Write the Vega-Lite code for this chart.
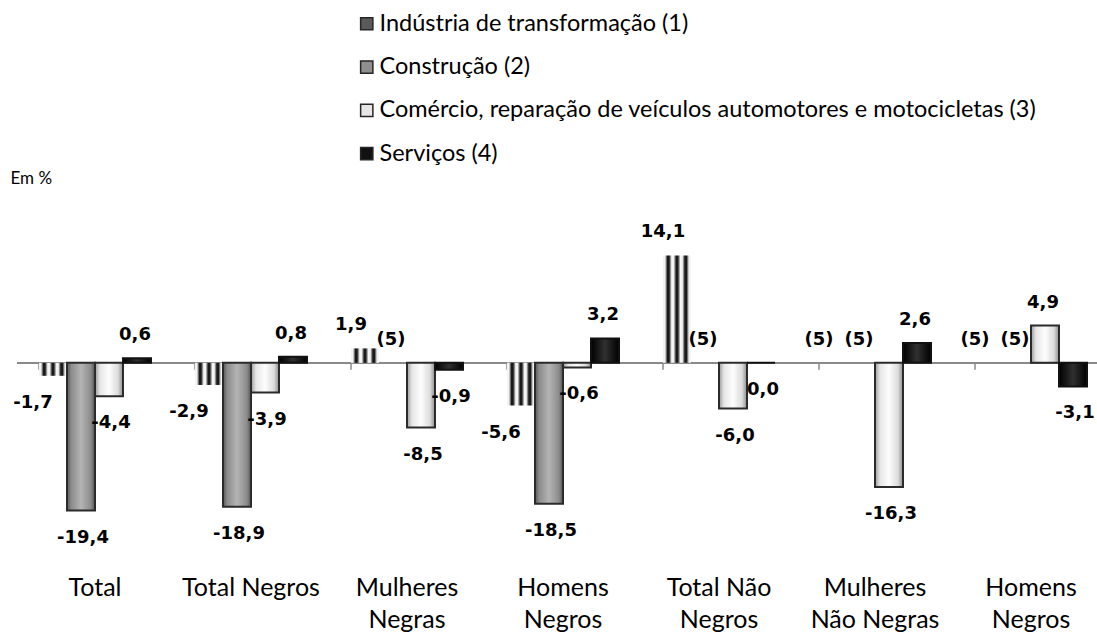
{
  "$schema": "https://vega.github.io/schema/vega-lite/v6.json",
  "width": 1080,
  "height": 380,
  "autosize": {"type": "none"},
  "padding": {"left": 17, "top": 190, "right": 0, "bottom": 63},
  "background": "white",
  "config": {
    "view": {"stroke": null},
    "font": "Lato",
    "axisY": {"labels": false, "ticks": false, "domain": false, "grid": false, "titleAngle": 0, "titleX": -7, "titleY": -12, "titleAlign": "left", "titleBaseline": "middle", "titleFontSize": 17, "titleFontWeight": "normal", "titleFont": "Lato", "titleColor": "#000000"}
  },
  "data": {"values": [
    {"cat": 1, "serie": "Indústria de transformação (1)", "value": -1.7, "label": "-1,7"},
    {"cat": 1, "serie": "Construção (2)", "value": -19.4, "label": "-19,4"},
    {"cat": 1, "serie": "Comércio, reparação de veículos automotores e motocicletas (3)", "value": -4.4, "label": "-4,4"},
    {"cat": 1, "serie": "Serviços (4)", "value": 0.6, "label": "0,6"},
    {"cat": 2, "serie": "Indústria de transformação (1)", "value": -2.9, "label": "-2,9"},
    {"cat": 2, "serie": "Construção (2)", "value": -18.9, "label": "-18,9"},
    {"cat": 2, "serie": "Comércio, reparação de veículos automotores e motocicletas (3)", "value": -3.9, "label": "-3,9"},
    {"cat": 2, "serie": "Serviços (4)", "value": 0.8, "label": "0,8"},
    {"cat": 3, "serie": "Indústria de transformação (1)", "value": 1.9, "label": "1,9"},
    {"cat": 3, "serie": "Construção (2)", "value": null, "label": "(5)"},
    {"cat": 3, "serie": "Comércio, reparação de veículos automotores e motocicletas (3)", "value": -8.5, "label": "-8,5"},
    {"cat": 3, "serie": "Serviços (4)", "value": -0.9, "label": "-0,9"},
    {"cat": 4, "serie": "Indústria de transformação (1)", "value": -5.6, "label": "-5,6"},
    {"cat": 4, "serie": "Construção (2)", "value": -18.5, "label": "-18,5"},
    {"cat": 4, "serie": "Comércio, reparação de veículos automotores e motocicletas (3)", "value": -0.6, "label": "-0,6"},
    {"cat": 4, "serie": "Serviços (4)", "value": 3.2, "label": "3,2"},
    {"cat": 5, "serie": "Indústria de transformação (1)", "value": 14.1, "label": "14,1"},
    {"cat": 5, "serie": "Construção (2)", "value": null, "label": "(5)"},
    {"cat": 5, "serie": "Comércio, reparação de veículos automotores e motocicletas (3)", "value": -6.0, "label": "-6,0"},
    {"cat": 5, "serie": "Serviços (4)", "value": 0.0, "label": "0,0"},
    {"cat": 6, "serie": "Indústria de transformação (1)", "value": null, "label": "(5)"},
    {"cat": 6, "serie": "Construção (2)", "value": null, "label": "(5)"},
    {"cat": 6, "serie": "Comércio, reparação de veículos automotores e motocicletas (3)", "value": -16.3, "label": "-16,3"},
    {"cat": 6, "serie": "Serviços (4)", "value": 2.6, "label": "2,6"},
    {"cat": 7, "serie": "Indústria de transformação (1)", "value": null, "label": "(5)"},
    {"cat": 7, "serie": "Construção (2)", "value": null, "label": "(5)"},
    {"cat": 7, "serie": "Comércio, reparação de veículos automotores e motocicletas (3)", "value": 4.9, "label": "4,9"},
    {"cat": 7, "serie": "Serviços (4)", "value": -3.1, "label": "-3,1"}
  ]},
  "transform": [{"calculate": "datum.value == null ? 0 : datum.value", "as": "labelY"}],
  "encoding": {
    "x": {"field": "cat", "type": "ordinal", "scale": {"range": [0, 1092], "paddingInner": 0.282, "paddingOuter": 0.141},
      "axis": {"title": null, "domain": false, "ticks": false, "labelAngle": 0, "labelFontSize": 25, "labelColor": "#000000", "labelFont": "Lato", "labelPadding": 5, "labelLineHeight": 32, "labelBaseline": "top",
        "labelExpr": "[['Total'], ['Total Negros'], ['Mulheres','Negras'], ['Homens','Negros'], ['Total Não','Negros'], ['Mulheres','Não Negras'], ['Homens','Negros']][datum.value - 1]"}}
  },
  "layer": [
    {
      "mark": {"type": "bar", "opacity": 0},
      "encoding": {
        "xOffset": {"field": "serie", "type": "nominal", "scale": {"domain": ["Indústria de transformação (1)", "Construção (2)", "Comércio, reparação de veículos automotores e motocicletas (3)", "Serviços (4)"], "paddingInner": 0, "paddingOuter": 0}},
        "y": {"field": "value", "type": "quantitative", "title": "Em %", "scale": {"domain": [-27.2, 22.7], "nice": false, "zero": false}},
        "color": {"field": "serie", "type": "nominal",
          "scale": {"domain": ["Indústria de transformação (1)", "Construção (2)", "Comércio, reparação de veículos automotores e motocicletas (3)", "Serviços (4)"],
            "range": ["#5a5a5a", "#8f8f8f", "#e6e6e6", "#111111"]},
          "legend": {"title": null, "orient": "none", "legendX": 338, "legendY": -178, "direction": "vertical", "symbolType": "square", "symbolSize": 150, "symbolOpacity": 1, "symbolStrokeColor": "#262626", "symbolStrokeWidth": 1.5, "labelFont": "Lato", "labelFontSize": 23.5, "labelColor": "#000000", "labelOffset": 1, "rowPadding": 18.3, "labelLimit": 900}}
      }
    },
    {
      "mark": {"type": "rule", "color": "#8a8a8a", "strokeWidth": 1.5},
      "encoding": {"x": null, "y": {"datum": 0, "type": "quantitative", "title": "Em %", "scale": {"domain": [-27.2, 22.7], "nice": false, "zero": false}}}
    },
    {
      "transform": [{"filter": "datum.serie == 'Serviços (4)'"}],
      "mark": {"type": "rule", "color": "#8a8a8a", "strokeWidth": 1.5},
      "encoding": {
        "x": {"field": "cat", "type": "ordinal", "bandPosition": 0},
        "y": {"datum": 0, "type": "quantitative", "title": "Em %"},
        "y2": {"datum": -0.9}
      }
    },
    {
      "transform": [{"filter": "datum.serie == 'Indústria de transformação (1)'"}],
      "mark": {"type": "bar", "strokeWidth": 0,
        "color": {"gradient": "linear", "x1": 0, "y1": 0, "x2": 1, "y2": 0, "stops": [
          {"offset": 0, "color": "#f4f4f4"}, {"offset": 0.07, "color": "#f4f4f4"}, {"offset": 0.16, "color": "#1a1a1a"}, {"offset": 0.22, "color": "#1a1a1a"}, {"offset": 0.31, "color": "#f4f4f4"},
          {"offset": 0.38, "color": "#f4f4f4"}, {"offset": 0.47, "color": "#1a1a1a"}, {"offset": 0.53, "color": "#1a1a1a"}, {"offset": 0.62, "color": "#f4f4f4"},
          {"offset": 0.69, "color": "#f4f4f4"}, {"offset": 0.78, "color": "#1a1a1a"}, {"offset": 0.84, "color": "#1a1a1a"}, {"offset": 0.93, "color": "#f4f4f4"}, {"offset": 1, "color": "#f4f4f4"}]}},
      "encoding": {
        "xOffset": {"field": "serie", "type": "nominal"},
        "y": {"field": "value", "type": "quantitative", "title": "Em %"}
      }
    },
    {
      "transform": [{"filter": "datum.serie == 'Construção (2)'"}],
      "mark": {"type": "bar", "stroke": "#2b2b2b", "strokeWidth": 2,
        "color": {"gradient": "linear", "x1": 0, "y1": 0, "x2": 1, "y2": 0, "stops": [
          {"offset": 0, "color": "#555555"}, {"offset": 0.15, "color": "#8c8c8c"}, {"offset": 0.5, "color": "#b4b4b4"}, {"offset": 0.85, "color": "#8c8c8c"}, {"offset": 1, "color": "#555555"}]}},
      "encoding": {
        "xOffset": {"field": "serie", "type": "nominal"},
        "y": {"field": "value", "type": "quantitative", "title": "Em %"}
      }
    },
    {
      "transform": [{"filter": "datum.serie == 'Comércio, reparação de veículos automotores e motocicletas (3)'"}],
      "mark": {"type": "bar", "stroke": "#2b2b2b", "strokeWidth": 2,
        "color": {"gradient": "linear", "x1": 0, "y1": 0, "x2": 1, "y2": 0, "stops": [
          {"offset": 0, "color": "#9a9a9a"}, {"offset": 0.18, "color": "#e6e6e6"}, {"offset": 0.5, "color": "#fdfdfd"}, {"offset": 0.82, "color": "#dcdcdc"}, {"offset": 1, "color": "#8c8c8c"}]}},
      "encoding": {
        "xOffset": {"field": "serie", "type": "nominal"},
        "y": {"field": "value", "type": "quantitative", "title": "Em %"}
      }
    },
    {
      "transform": [{"filter": "datum.serie == 'Serviços (4)'"}],
      "mark": {"type": "bar", "stroke": "#111111", "strokeWidth": 2,
        "color": {"gradient": "linear", "x1": 0, "y1": 0, "x2": 1, "y2": 0, "stops": [
          {"offset": 0, "color": "#000000"}, {"offset": 0.5, "color": "#303030"}, {"offset": 1, "color": "#000000"}]}},
      "encoding": {
        "xOffset": {"field": "serie", "type": "nominal"},
        "y": {"field": "value", "type": "quantitative", "title": "Em %"}
      }
    },
    {
      "transform": [{"filter": "datum.value != null && datum.value <= 0 && datum.serie == 'Indústria de transformação (1)'"}],
      "mark": {"type": "text", "font": "DejaVu Sans", "fontSize": 18, "fontWeight": "bold", "color": "#000000", "baseline": "middle", "dy": 27, "dx": -20},
      "encoding": {
        "xOffset": {"field": "serie", "type": "nominal"},
        "y": {"field": "labelY", "type": "quantitative", "title": "Em %"},
        "text": {"field": "label"}
      }
    },
    {
      "transform": [{"filter": "datum.value != null && datum.value <= 0 && datum.serie != 'Indústria de transformação (1)'"}],
      "mark": {"type": "text", "font": "DejaVu Sans", "fontSize": 18, "fontWeight": "bold", "color": "#000000", "baseline": "middle", "dy": 27, "dx": 2},
      "encoding": {
        "xOffset": {"field": "serie", "type": "nominal"},
        "y": {"field": "labelY", "type": "quantitative", "title": "Em %"},
        "text": {"field": "label"}
      }
    },
    {
      "transform": [{"filter": "(datum.value == null || datum.value > 0) && datum.serie == 'Indústria de transformação (1)'"}],
      "mark": {"type": "text", "font": "DejaVu Sans", "fontSize": 18, "fontWeight": "bold", "color": "#000000", "baseline": "middle", "dy": -23, "dx": -14},
      "encoding": {
        "xOffset": {"field": "serie", "type": "nominal"},
        "y": {"field": "labelY", "type": "quantitative", "title": "Em %"},
        "text": {"field": "label"}
      }
    },
    {
      "transform": [{"filter": "(datum.value == null || datum.value > 0) && datum.serie != 'Indústria de transformação (1)'"}],
      "mark": {"type": "text", "font": "DejaVu Sans", "fontSize": 18, "fontWeight": "bold", "color": "#000000", "baseline": "middle", "dy": -23, "dx": -2},
      "encoding": {
        "xOffset": {"field": "serie", "type": "nominal"},
        "y": {"field": "labelY", "type": "quantitative", "title": "Em %"},
        "text": {"field": "label"}
      }
    }
  ]
}
